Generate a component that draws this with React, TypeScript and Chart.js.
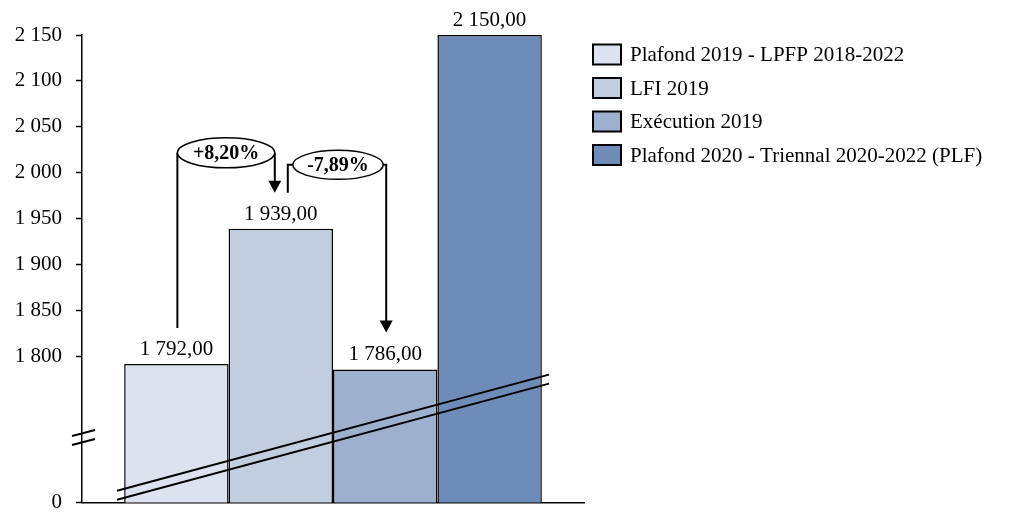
import { useEffect, useRef } from "react";
import { Chart, registerables } from "chart.js";

Chart.register(...registerables);

const categories = [""];
const seriesNames = [
  "Plafond 2019 - LPFP 2018-2022",
  "LFI 2019",
  "Exécution 2019",
  "Plafond 2020 - Triennal 2020-2022 (PLF)",
];
const seriesValues = [1792, 1939, 1786, 2150];
const valueLabels = ["1 792,00", "1 939,00", "1 786,00", "2 150,00"];
const seriesColors = ["#DCE3EE", "#C2CDE0", "#9DB0CE", "#6E8CB8"];

// broken axis: the bottom value of the scale is displayed as "0"
const AXIS_MIN = 1641.3;
const AXIS_MAX = 2150;
const tickValues = [AXIS_MIN, 1800, 1850, 1900, 1950, 2000, 2050, 2100, 2150];
const tickLabels = ["0", "1 800", "1 850", "1 900", "1 950", "2 000", "2 050", "2 100", "2 150"];
const changeLabels = ["+8,20%", "-7,89%"];
const breakBandValues = [1654, 1780.4];
const axisBreakValue = 1712;

const FONT = "'Liberation Serif', 'Times New Roman', serif";

const overlayPlugin = {
  id: "overlay",
  afterDatasetsDraw(chart: any) {
    const ctx = chart.ctx as CanvasRenderingContext2D;
    const area = chart.chartArea;
    const ys = chart.scales.y;
    const bars = seriesValues.map((_, i) => chart.getDatasetMeta(i).data[0] as any);

    ctx.save();
    // value labels
    ctx.fillStyle = "#000";
    ctx.font = `21px ${FONT}`;
    ctx.textAlign = "center";
    ctx.textBaseline = "alphabetic";
    bars.forEach((b, i) => {
      ctx.fillText(valueLabels[i], b.x, b.y - 9);
    });

    // break band across bars
    ctx.strokeStyle = "#000";
    ctx.lineWidth = 2;
    const x0 = area.left + 35;
    const x1 = area.right - 35;
    const y0 = ys.getPixelForValue(breakBandValues[0]);
    const y1 = ys.getPixelForValue(breakBandValues[1]);
    [0, 9].forEach((off) => {
      ctx.beginPath();
      ctx.moveTo(x0, y0 + off);
      ctx.lineTo(x1, y1 + off);
      ctx.stroke();
    });

    // axis break marks
    const ab = ys.getPixelForValue(axisBreakValue);
    [-4.5, 4.5].forEach((off) => {
      ctx.beginPath();
      ctx.moveTo(area.left - 10, ab + off + 3);
      ctx.lineTo(area.left + 13, ab + off - 3);
      ctx.stroke();
    });

    // change annotations
    const arrowHead = (x: number, tipY: number) => {
      ctx.beginPath();
      ctx.moveTo(x - 6.5, tipY - 12);
      ctx.lineTo(x + 6.5, tipY - 12);
      ctx.lineTo(x, tipY);
      ctx.closePath();
      ctx.fill();
    };
    const ellipse = (cx: number, cy: number, rx: number, ry: number, text: string) => {
      ctx.save();
      ctx.beginPath();
      ctx.ellipse(cx, cy, rx, ry, 0, 0, Math.PI * 2);
      ctx.fillStyle = "#fff";
      ctx.fill();
      ctx.lineWidth = 1.5;
      ctx.stroke();
      ctx.fillStyle = "#000";
      ctx.font = `bold 20px ${FONT}`;
      ctx.textAlign = "center";
      ctx.textBaseline = "middle";
      ctx.fillText(text, cx, cy + 1);
      ctx.restore();
    };

    // bracket 1
    {
      const lx = bars[0].x + 1;
      const rx = bars[1].x - 6;
      const cy = bars[1].y - 76;
      const tip = bars[1].y - 36;
      ctx.beginPath();
      ctx.moveTo(lx, bars[0].y - 36);
      ctx.lineTo(lx, cy);
      ctx.moveTo(rx, cy);
      ctx.lineTo(rx, tip - 10);
      ctx.stroke();
      arrowHead(rx, tip);
      ellipse((lx + rx) / 2, cy, (rx - lx) / 2, 15, changeLabels[0]);
    }
    // bracket 2
    {
      const lx = bars[1].x + 7;
      const el = bars[1].x + 12;
      const er = bars[2].x - 2;
      const rx = bars[2].x + 1;
      const cy = bars[1].y - 64;
      const tip = bars[2].y - 37;
      ctx.beginPath();
      ctx.moveTo(lx, bars[1].y - 36);
      ctx.lineTo(lx, cy);
      ctx.lineTo(el, cy);
      ctx.moveTo(er, cy);
      ctx.lineTo(rx, cy);
      ctx.lineTo(rx, tip - 10);
      ctx.stroke();
      arrowHead(rx, tip);
      ellipse((el + er) / 2, cy, (er - el) / 2, 14.5, changeLabels[1]);
    }

    // legend
    ctx.font = `21px ${FONT}`;
    ctx.textAlign = "left";
    ctx.textBaseline = "middle";
    seriesNames.forEach((name, i) => {
      const cy = 54.5 + i * 33.5;
      ctx.fillStyle = seriesColors[i];
      ctx.fillRect(593, cy - 10, 28, 20);
      ctx.lineWidth = 2;
      ctx.strokeStyle = "#000";
      ctx.strokeRect(593, cy - 10, 28, 20);
      ctx.fillStyle = "#000";
      ctx.fillText(name, 630, cy + 1);
    });
    ctx.restore();
  },
};

export default function App() {
  const ref = useRef<HTMLCanvasElement | null>(null);

  useEffect(() => {
    if (!ref.current) return;
    const chart = new Chart(ref.current, {
      type: "bar",
      data: {
        labels: categories,
        datasets: seriesNames.map((name, i) => ({
          label: name,
          data: [seriesValues[i]],
          backgroundColor: seriesColors[i],
          borderColor: "#000",
          borderWidth: 1.5,
          categoryPercentage: 0.832,
          barPercentage: 1,
        })),
      },
      options: {
        responsive: false,
        animation: false,
        layout: { padding: { left: 0, top: 35, right: 427, bottom: 0 } },
        plugins: {
          legend: { display: false },
          tooltip: { enabled: false },
        },
        scales: {
          x: {
            offset: true,
            ticks: { display: false },
            grid: { display: false },
            border: { display: true, color: "#000", width: 1.5 },
            afterFit: (s: any) => {
              s.height = 26;
            },
          },
          y: {
            type: "linear",
            beginAtZero: false,
            min: AXIS_MIN,
            max: AXIS_MAX,
            afterBuildTicks: (s: any) => {
              s.ticks = tickValues.map((v) => ({ value: v }));
            },
            afterFit: (s: any) => {
              s.width = 82;
            },
            ticks: {
              color: "#000",
              padding: 14,
              font: { family: FONT, size: 21 },
              callback: (_v: any, i: number) => tickLabels[i],
            },
            grid: {
              drawOnChartArea: false,
              drawTicks: true,
              tickLength: 6,
              tickWidth: 1.5,
              tickColor: "#000",
            },
            border: { display: true, color: "#000", width: 1.5 },
          },
        },
      },
      plugins: [overlayPlugin],
    });
    return () => chart.destroy();
  }, []);

  return (
    <div style={{ position: "fixed", left: 0, top: 0, width: 1011, height: 529, background: "#fff" }}>
      <canvas ref={ref} width={1011} height={529} />
    </div>
  );
}
